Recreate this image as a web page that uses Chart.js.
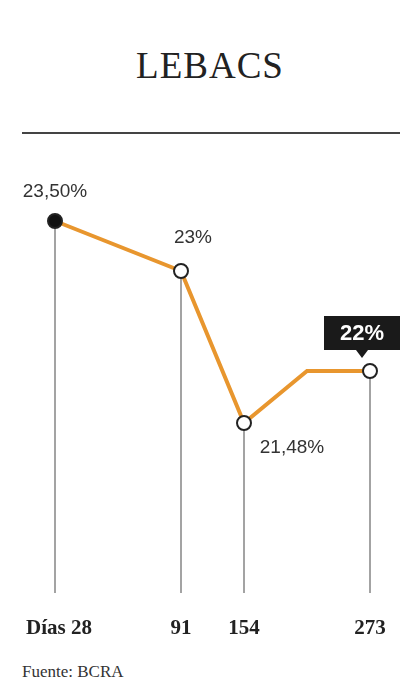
<!DOCTYPE html>
<html><head><meta charset="utf-8">
<script src="https://cdn.jsdelivr.net/npm/chart.js@4"></script>
<style>
body{margin:0;background:#fff;width:420px;height:697px;overflow:hidden;position:relative;font-family:"Liberation Serif",serif}
#t{position:absolute;top:44px;left:0;width:420px;text-align:center;font-size:37px;color:#222;letter-spacing:1px}
#hr{position:absolute;top:132px;left:22px;width:378px;height:2px;background:#444}
#f{position:absolute;top:662px;left:22px;font-size:17px;color:#333}
canvas{position:absolute;top:0;left:0}
</style></head><body>
<div id="t">LEBACS</div><div id="hr"></div>
<div id="f">Fuente: BCRA</div>
<canvas id="c" width="420" height="697"></canvas>
<script>
const categories=["Días 28","","91","154","","273"];
const rates=[23.5,null,23,21.48,22,22];
const valueLabels=["23,50%","","23%","21,48%","","22%"];
const markers=[true,false,true,true,false,true];

const deco={id:'deco',afterDatasetsDraw(ch){
 const c=ch.ctx,meta=ch.getDatasetMeta(0),bottom=ch.chartArea.bottom;
 c.save();
 // labels on x
 c.font='bold 21px "Liberation Serif",serif';c.fillStyle='#222';c.textAlign='center';c.textBaseline='middle';
 meta.data.forEach((p,i)=>{ if(categories[i]) c.fillText(categories[i], i===0?p.x+4:p.x, 629);});
 c.font='19px "Liberation Sans",sans-serif';c.fillStyle='#333';
 const off=[[0,-29],null,[12,-33],[48,25],null,null];
 meta.data.forEach((p,i)=>{ if(off[i]&&valueLabels[i]) c.fillText(valueLabels[i],p.x+off[i][0],p.y+off[i][1]);});
 // boxed label
 const p=meta.data[5];
 c.fillStyle='#1a1a1a';c.fillRect(p.x-46,p.y-55,76,34);
 c.beginPath();c.moveTo(p.x-14,p.y-21);c.lineTo(p.x-8,p.y-13);c.lineTo(p.x-2,p.y-21);c.fill();
 c.fillStyle='#fff';c.font='bold 22px "Liberation Sans",sans-serif';c.fillText(valueLabels[5],p.x-8,p.y-37);
 c.restore();
},beforeDatasetsDraw(ch){
 const c=ch.ctx,meta=ch.getDatasetMeta(0),bottom=ch.chartArea.bottom;
 c.save();c.strokeStyle='#666';c.lineWidth=1.2;
 meta.data.forEach((p,i)=>{ if(markers[i]){c.beginPath();c.moveTo(p.x,p.y);c.lineTo(p.x,bottom);c.stroke();}});
 c.restore();
}};

new Chart(document.getElementById('c'),{type:'line',
 data:{labels:categories,datasets:[{data:rates,spanGaps:true,borderColor:'#E8962E',borderWidth:4,tension:0,
  pointRadius:markers.map(m=>m?7:0),pointBorderWidth:2,pointBorderColor:'#222',
  pointBackgroundColor:rates.map((v,i)=>i===0?'#111':'#fff')}]},
 options:{responsive:false,animation:false,devicePixelRatio:1,
  layout:{padding:{left:55,right:50,top:150,bottom:104}},
  plugins:{legend:{display:false},tooltip:{enabled:false}},
  scales:{x:{display:false,offset:false},y:{display:false,min:19.78,max:24.21}}},
 plugins:[deco]});
</script></body></html>
